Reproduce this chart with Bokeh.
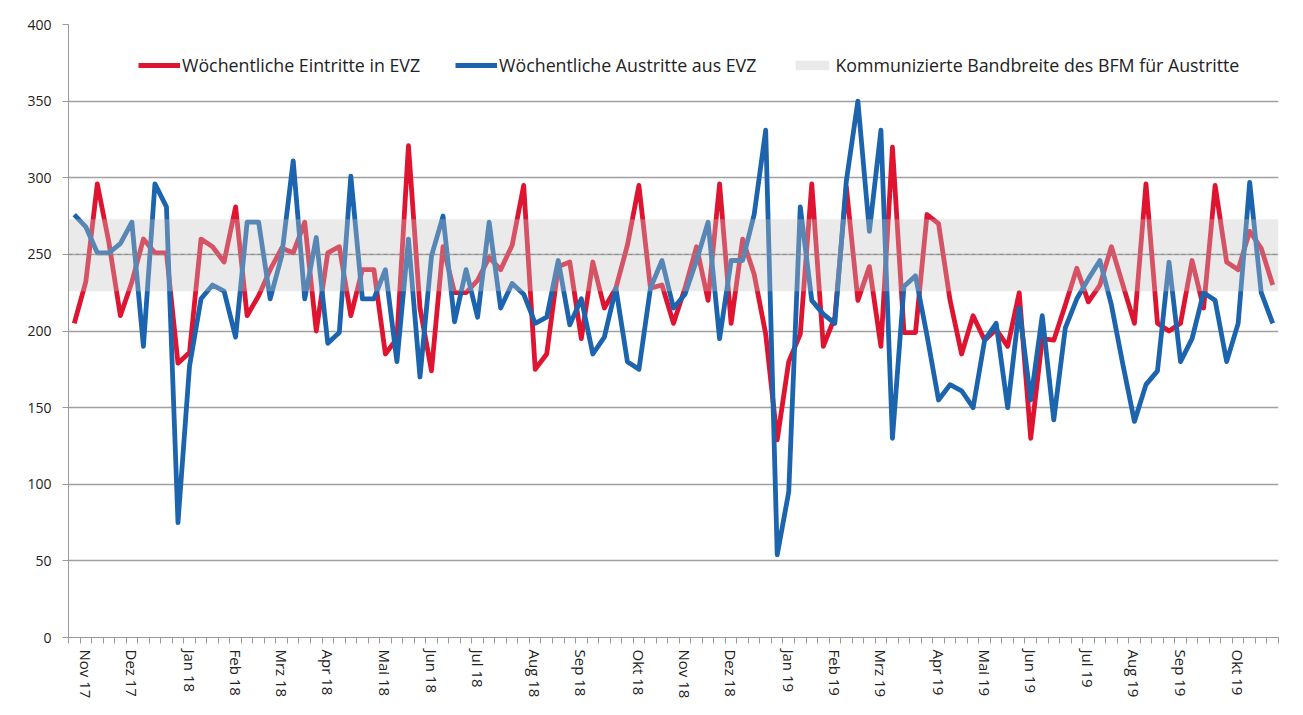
from bokeh.plotting import figure
from bokeh.models import FixedTicker, Legend, LegendItem, Range1d, Span
from bokeh.embed import file_html
from bokeh.resources import INLINE

# weekly values, week 0 = week ending Sun 29 Oct 2017
eintritte = [205, 232, 296, 258, 210, 232, 260, 251, 251, 179,
             186, 260, 255, 245, 281, 210, 223, 240, 254, 251,
             271, 200, 251, 255, 210, 240, 240, 185, 195, 321,
             215, 174, 255, 225, 225, 233, 248, 240, 256, 295,
             175, 185, 242, 245, 195, 245, 215, 228, 256, 295,
             228, 230, 205, 228, 255, 220, 296, 205, 260, 237,
             198, 129, 180, 198, 296, 190, 209, 294, 220, 242,
             190, 320, 199, 199, 276, 270, 220, 185, 210, 194,
             201, 190, 225, 130, 195, 194, 217, 241, 219, 230,
             255, 230, 205, 296, 205, 200, 205, 246, 215, 295,
             245, 240, 265, 254, 230]
austritte = [276, 268, 251, 251, 257, 271, 190, 296, 281, 75,
             177, 221, 230, 226, 196, 271, 271, 221, 249, 311,
             221, 261, 192, 199, 301, 221, 221, 240, 180, 260,
             170, 249, 275, 206, 240, 209, 271, 215, 231, 224,
             205, 209, 246, 204, 221, 185, 196, 228, 180, 175,
             228, 246, 215, 224, 246, 271, 195, 246, 246, 276,
             331, 54, 95, 281, 220, 211, 205, 298, 350, 265,
             331, 130, 229, 236, 197, 155, 165, 161, 150, 194,
             205, 150, 215, 155, 210, 142, 202, 221, 234, 246,
             217, 178, 141, 165, 174, 245, 180, 195, 225, 220,
             180, 205, 297, 225, 205]
weeks = list(range(len(eintritte)))

tick_positions = [1, 5, 10, 14, 18, 22, 27, 31, 35, 40, 44, 49,
                  53, 57, 62, 66, 70, 75, 79, 83, 88, 92, 96, 101]
tick_labels = ["Nov 17", "Dez 17", "Jan 18", "Feb 18", "Mrz 18", "Apr 18",
               "Mai 18", "Jun 18", "Jul 18", "Aug 18", "Sep 18", "Okt 18",
               "Nov 18", "Dez 18", "Jan 19", "Feb 19", "Mrz 19", "Apr 19",
               "Mai 19", "Jun 19", "Jul 19", "Aug 19", "Sep 19", "Okt 19"]
y_ticks = [0, 50, 100, 150, 200, 250, 300, 350, 400]
band_low, band_high, band_mid = 226, 273, 250

RED = "#de1430"
BLUE = "#1c64ae"
FONT = "Open Sans"

p = figure(width=1295, height=705, output_backend="svg", toolbar_location=None,
           x_range=Range1d(weeks[0] - 0.5, weeks[-1] + 0.5),
           y_range=Range1d(0, 400),
           min_border_left=68, min_border_right=17, min_border_top=24,
           min_border_bottom=68)
p.outline_line_color = None
p.background_fill_color = "white"

r1 = p.line(weeks, eintritte, line_color=RED, line_width=4.8, line_join="round")
r2 = p.line(weeks, austritte, line_color=BLUE, line_width=4.8, line_join="round")
band = p.quad(left=[weeks[0] - 0.5], right=[weeks[-1] + 0.5],
              bottom=[band_low], top=[band_high],
              fill_color="#c4c4c4", fill_alpha=0.36, line_color=None)
p.add_layout(Span(location=band_mid, dimension="width", line_color="#8a8a8a",
                  line_width=1, line_dash="4 3"))

# axes
p.xaxis.ticker = FixedTicker(ticks=tick_positions,
                             minor_ticks=[w + 0.5 for w in [weeks[0] - 1] + weeks])
p.xaxis.major_label_overrides = {t: l for t, l in zip(tick_positions, tick_labels)}
p.xaxis.major_label_orientation = "vertical"
p.xaxis.major_tick_out = 0
p.xaxis.major_tick_in = 0
p.xaxis.minor_tick_out = 6
p.xaxis.minor_tick_in = 0
p.xaxis.minor_tick_line_color = "#999999"
p.xaxis.axis_line_color = "#999999"
p.xaxis.major_label_standoff = 6
p.xaxis.major_label_text_font = FONT
p.xaxis.major_label_text_font_size = "15px"
p.xaxis.major_label_text_color = "#222222"

p.yaxis.ticker = FixedTicker(ticks=y_ticks)
p.yaxis.minor_tick_line_color = None
p.yaxis.major_tick_out = 6
p.yaxis.major_tick_in = 0
p.yaxis.major_tick_line_color = "#999999"
p.yaxis.axis_line_color = "#999999"
p.yaxis.major_label_standoff = 11
p.yaxis.major_label_text_font = FONT
p.yaxis.major_label_text_font_size = "14px"
p.yaxis.major_label_text_color = "#222222"

p.xgrid.grid_line_color = None
p.ygrid.ticker = FixedTicker(ticks=y_ticks)
p.ygrid.grid_line_color = "#a0a0a0"
p.ygrid.grid_line_width = 1.3

legend = Legend(items=[
    LegendItem(label="Wöchentliche Eintritte in EVZ", renderers=[r1]),
    LegendItem(label="Wöchentliche Austritte aus EVZ", renderers=[r2]),
    LegendItem(label="Kommunizierte Bandbreite des BFM für Austritte", renderers=[band]),
], orientation="horizontal", location=(70, 560), spacing=35, padding=0,
    glyph_width=42, glyph_height=12, label_standoff=2, label_height=20,
    label_text_font=FONT, label_text_font_size="17.8px", label_text_color="#222222",
    border_line_color=None, background_fill_alpha=0)
p.add_layout(legend)

open("out.html", "w").write(file_html(p, INLINE))
